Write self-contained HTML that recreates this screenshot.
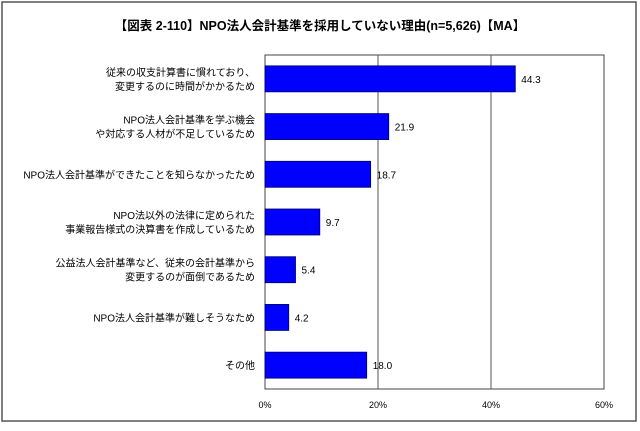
<!DOCTYPE html>
<html><head><meta charset="utf-8"><style>
body{margin:0;background:#fff;}
svg text{font-family:"Liberation Sans","Noto Sans CJK JP",sans-serif;}
</style></head><body>
<svg width="640" height="426">
<rect x="2" y="2" width="634" height="419" fill="#fff" stroke="#555" stroke-width="1.5"/>
<text x="320" y="30" text-anchor="middle" font-size="12.5" font-weight="bold">【図表 2-110】NPO法人会計基準を採用していない理由(n=5,626)【MA】</text>
<g id="plot"></g>
</svg>
<script>
const categories=[["従来の収支計算書に慣れており、","変更するのに時間がかかるため"],["NPO法人会計基準を学ぶ機会","や対応する人材が不足しているため"],["NPO法人会計基準ができたことを知らなかったため"],["NPO法以外の法律に定められた","事業報告様式の決算書を作成しているため"],["公益法人会計基準など、従来の会計基準から","変更するのが面倒であるため"],["NPO法人会計基準が難しそうなため"],["その他"]];
const values=[44.3,21.9,18.7,9.7,5.4,4.2,18.0];
const ticks=[0,20,40,60];
const tickLabels=["0%","20%","40%","60%"];
const NS="http://www.w3.org/2000/svg";
const g=document.getElementById('plot');
const L=265,R=604,T=55,B=389;
const x=v=>L+(v/60)*(R-L);
const band=(B-T)/categories.length;
const y=i=>T+band*i+band/2;
function mk(t,a,p){const e=document.createElementNS(NS,t);for(const k in a)e.setAttribute(k,a[k]);(p||g).appendChild(e);return e;}
const frame=mk('rect',{x:L,y:T,width:R-L,height:B-T,fill:'#fff',stroke:'#444','stroke-width':1});


ticks.forEach((t,i)=>{
  if(i>0&&i<ticks.length-1){const gl=mk('line',{x1:x(t),x2:x(t),y1:T,y2:B,stroke:'#555','stroke-width':1});
  
  }
  const tl=mk('text',{x:x(t),y:B+19,'text-anchor':'middle','font-size':9});tl.textContent=tickLabels[i];
  
  
});
values.forEach((v,i)=>{
  const r=mk('rect',{x:L,y:y(i)-13,width:x(v)-L,height:26,fill:'#0000ff',stroke:'#000066','stroke-width':0.8});
  
  
  const vl=mk('text',{x:x(v)+6,y:y(i)+4,'font-size':10});vl.textContent=v.toFixed(1);
  
  
  const lines=categories[i];
  lines.forEach((s,j)=>{
    const c=mk('text',{x:L-10,y:y(i)+4+(j-(lines.length-1)/2)*14,'text-anchor':'end','font-size':10});c.textContent=s;
    
    
  });
});
</script>
</body></html>
